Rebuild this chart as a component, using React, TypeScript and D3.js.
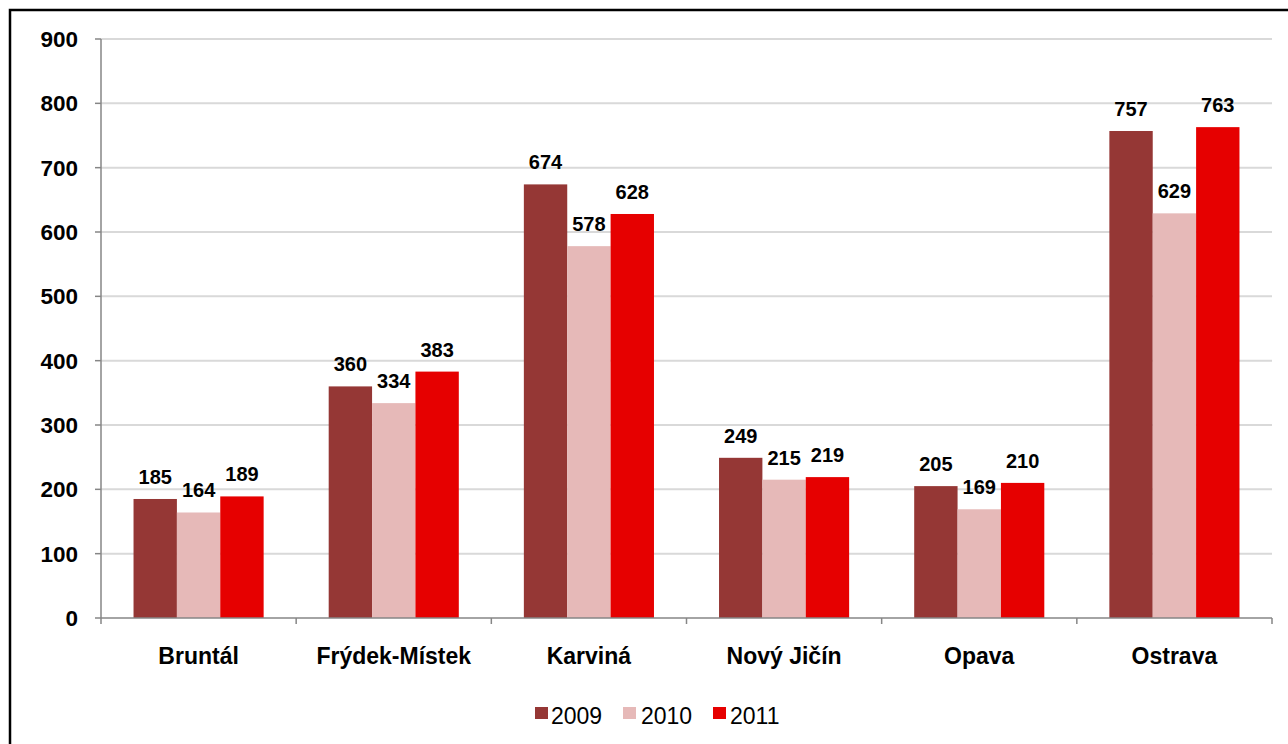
import React from 'react';
import * as d3 from 'd3';

const categories = ['Bruntál', 'Frýdek-Místek', 'Karviná', 'Nový Jičín', 'Opava', 'Ostrava'];
const years = ['2009', '2010', '2011'];
const values2009 = [185, 360, 674, 249, 205, 757];
const values2010 = [164, 334, 578, 215, 169, 629];
const values2011 = [189, 383, 628, 219, 210, 763];
const yTicks = [0, 100, 200, 300, 400, 500, 600, 700, 800, 900];
const colors = ['#953735', '#e6b9b8', '#e60000'];

const series = [values2009, values2010, values2011];

const W = 1288;
const H = 744;
const FONT = '"Liberation Sans", Arial, sans-serif';

export default function App() {
  const left = 101;
  const right = 1272;
  const top = 39;
  const bottom = 618;

  const x = d3.scaleBand<string>().domain(categories).range([left, right]);
  const y = d3.scaleLinear().domain([0, 900]).range([bottom, top]);
  const bw = x.bandwidth();
  const barW = (bw * 2) / 9;
  const inner = d3
    .scaleBand<string>()
    .domain(years)
    .range([(bw - 3 * barW) / 2, (bw + 3 * barW) / 2]);

  // x tick positions at band boundaries
  const xTickPos = categories.map((c) => x(c) as number).concat([right]);

  // legend layout
  const legendItems = [
    { sq: 535, tx: 551 },
    { sq: 623, tx: 641 },
    { sq: 713, tx: 730 },
  ];

  return (
    <svg
      width={W}
      height={H}
      style={{ position: 'absolute', left: 0, top: 0, background: '#fff' }}
      fontFamily={FONT}
    >
      <rect x={0} y={0} width={W} height={H} fill="#fff" />
      <rect x={10} y={10} width={W + 20} height={H + 20} fill="none" stroke="#000" strokeWidth={2.5} />

      {/* gridlines */}
      {yTicks.filter((t) => t > 0).map((t) => (
        <line key={'g' + t} x1={left} x2={right} y1={y(t)} y2={y(t)} stroke="#d9d9d9" strokeWidth={2} />
      ))}

      {/* bars */}
      {categories.map((c, i) => (
        <g key={c} transform={`translate(${x(c)},0)`}>
          {years.map((yr, j) => {
            const v = series[j][i];
            const bx = inner(yr) as number;
            return (
              <g key={yr}>
                <rect x={bx} y={y(v)} width={barW} height={bottom - y(v)} fill={colors[j]} />
                <text
                  x={bx + barW / 2}
                  y={y(v) - 15}
                  textAnchor="middle"
                  fontSize={20}
                  fontWeight="bold"
                  fill="#000"
                >
                  {v}
                </text>
              </g>
            );
          })}
        </g>
      ))}

      {/* axes */}
      <line x1={left} x2={left} y1={top} y2={bottom} stroke="#868686" strokeWidth={1.5} />
      <line x1={left} x2={right} y1={bottom} y2={bottom} stroke="#868686" strokeWidth={1.5} />
      {yTicks.map((t) => (
        <g key={'y' + t}>
          <line x1={95} x2={left} y1={y(t)} y2={y(t)} stroke="#868686" strokeWidth={1.5} />
          <text x={78} y={y(t) + 8} textAnchor="end" fontSize={22.5} fontWeight="bold" fill="#000">
            {t}
          </text>
        </g>
      ))}
      {xTickPos.map((p, i) => (
        <line key={'xt' + i} x1={p} x2={p} y1={bottom} y2={bottom + 6} stroke="#868686" strokeWidth={1.5} />
      ))}
      {categories.map((c) => (
        <text
          key={'cl' + c}
          x={(x(c) as number) + bw / 2}
          y={664}
          textAnchor="middle"
          fontSize={23}
          fontWeight="bold"
          fill="#000"
        >
          {c}
        </text>
      ))}

      {/* legend */}
      {years.map((yr, j) => (
        <g key={'l' + yr}>
          <rect x={legendItems[j].sq} y={707} width={13} height={12} fill={colors[j]} />
          <text x={legendItems[j].tx} y={724} fontSize={23} fill="#000">
            {yr}
          </text>
        </g>
      ))}
    </svg>
  );
}
